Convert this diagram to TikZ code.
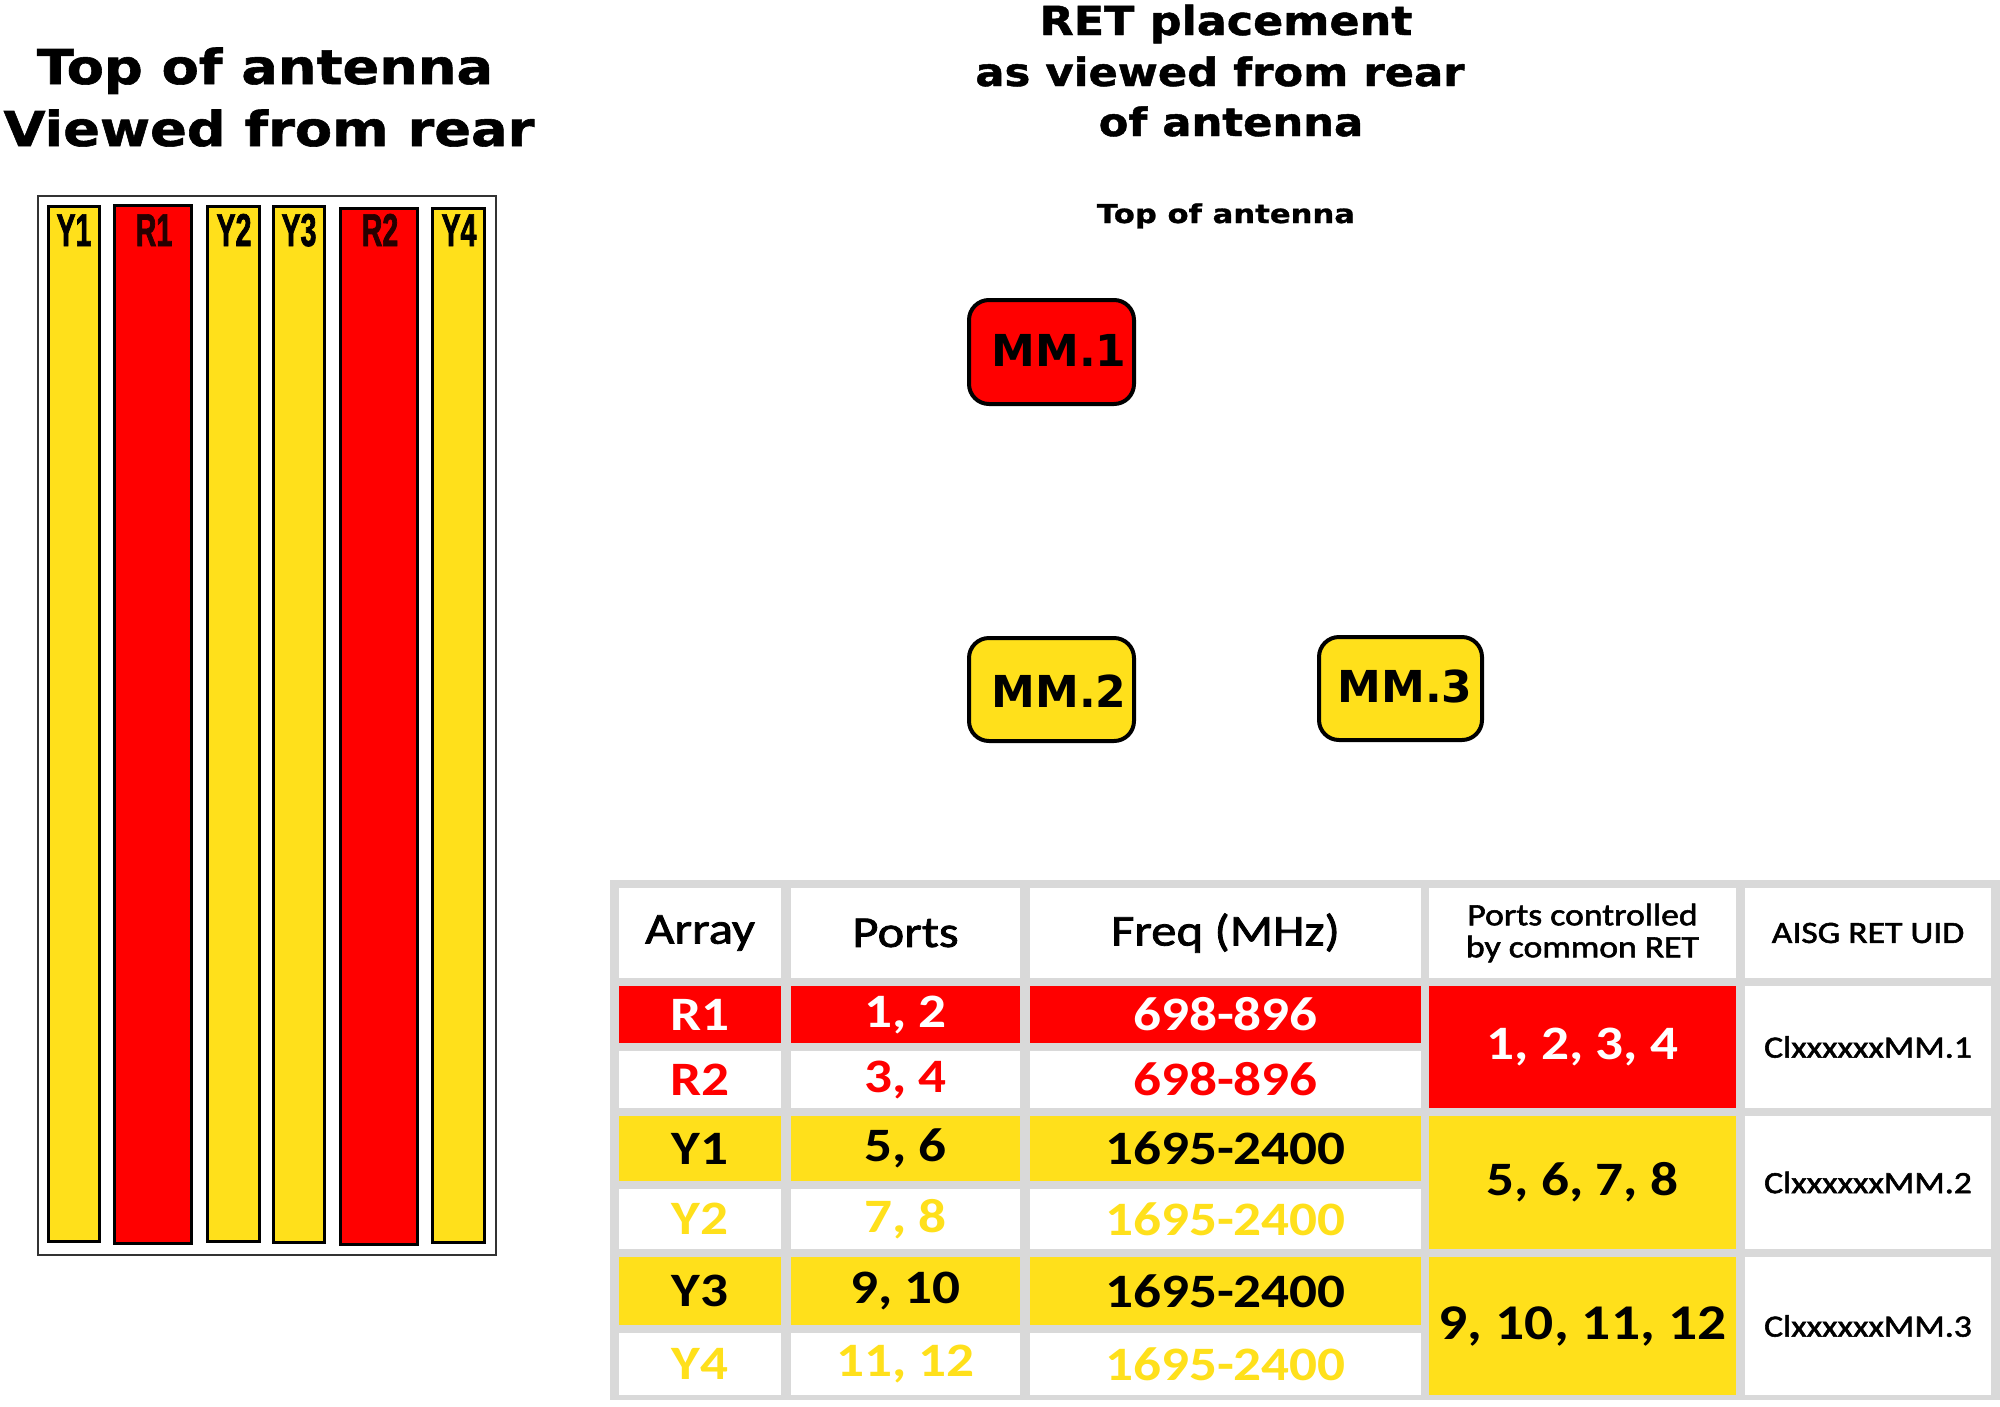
\documentclass[tikz,border=0pt]{standalone}
\usepackage{fontspec}
\setmainfont{DejaVu Sans}
\newfontfamily\ttlA[FakeStretch=1.13,FakeBold=1.2]{DejaVu Sans}
\newfontfamily\ttlB[FakeStretch=1.11,FakeBold=1.2]{DejaVu Sans}
\newfontfamily\ttlC[FakeStretch=1.18,FakeBold=1]{DejaVu Sans}
\newfontfamily\mmfont{DejaVu Sans}
\newfontfamily\elemfont[FakeStretch=0.62,FakeBold=1.5]{Liberation Sans}
\newfontfamily\tabf[FakeStretch=1.15]{Carlito}
\newfontfamily\tabr[FakeStretch=1.15,FakeBold=1.8]{Carlito}
\definecolor{ylw}{HTML}{FFE01B}
\definecolor{rd}{HTML}{FF0000}
\definecolor{tgray}{HTML}{D9D9D9}
\newcommand\hdf{\tabr\fontsize{44pt}{46pt}\selectfont}
\newcommand\bdf{\tabf\bfseries\fontsize{48pt}{50pt}\selectfont}
\newcommand\bdfL{\tabf\bfseries\fontsize{50pt}{52pt}\selectfont}
\newcommand\smf{\tabr\fontsize{31pt}{32pt}\selectfont}
\newcommand\tcell[9]{%
  \fill[#6] (#2,#3) rectangle (#4,#5);
  \node[tcellt, text=#7, font=#8] (#1) at ({(#2+#4)/2},{(#3+#5)/2}) {#9};}
\tikzset{
  ttl/.style={anchor=base, inner sep=0pt},
  elem/.style={draw=black, line width=3pt},
  elemlbl/.style={anchor=base, inner sep=0pt, font=\elemfont\bfseries\fontsize{46pt}{48pt}\selectfont},
  mmbox/.style={draw=black, line width=4pt, rounded corners=20pt},
  mmlbl/.style={anchor=base, inner sep=0pt, font=\mmfont\bfseries\fontsize{44pt}{46pt}\selectfont},
  tcellt/.style={inner sep=0pt, align=center}
}
\begin{document}
\begin{tikzpicture}[x=1pt,y=-1pt]
\useasboundingbox (0,0) rectangle (2000,1406);
\fill[white] (0,0) rectangle (2000,1406);

% ---- left titles
\node[ttl, font=\ttlA\bfseries\fontsize{48pt}{50pt}\selectfont] (ltitle1) at (265,84) {Top of antenna};
\node[ttl, font=\ttlA\bfseries\fontsize{48pt}{50pt}\selectfont] (ltitle2) at (269,146) {Viewed from rear};

% ---- antenna
\draw[draw=black!80, line width=2pt] (38,196) rectangle (496,1255);
\draw[elem, fill=ylw] (48.5,206.5) rectangle (99.5,1241.5);
\draw[elem, fill=rd]  (114.5,205.5) rectangle (191.5,1243.5);
\draw[elem, fill=ylw] (207.5,206.5) rectangle (259.5,1241.5);
\draw[elem, fill=ylw] (273.5,206.5) rectangle (324.5,1242.5);
\draw[elem, fill=rd]  (340.5,208.5) rectangle (417.5,1244.5);
\draw[elem, fill=ylw] (432.5,208.5) rectangle (484.5,1242.5);
\node[elemlbl, text=black] (lY1) at (74,246) {Y1};
\node[elemlbl, text=black!85!red] (lR1) at (154,246) {R1};
\node[elemlbl, text=black] (lY2) at (234,246) {Y2};
\node[elemlbl, text=black] (lY3) at (299,246) {Y3};
\node[elemlbl, text=black!85!red] (lR2) at (380,246) {R2};
\node[elemlbl, text=black] (lY4) at (459,246) {Y4};

% ---- right titles
\node[ttl, font=\ttlB\bfseries\fontsize{40pt}{42pt}\selectfont] (rtitle1) at (1226,35) {RET placement};
\node[ttl, font=\ttlB\bfseries\fontsize{39pt}{42pt}\selectfont] (rtitle2) at (1220,86) {as viewed from rear};
\node[ttl, font=\ttlB\bfseries\fontsize{39pt}{42pt}\selectfont] (rtitle3) at (1231,136) {of antenna};
\node[ttl, font=\ttlC\bfseries\fontsize{26pt}{28pt}\selectfont] (toplbl) at (1226,223) {Top of antenna};

% ---- RET boxes
\draw[mmbox, fill=rd]  (969,300) rectangle (1134,404);
\draw[mmbox, fill=ylw] (969,638) rectangle (1134,741);
\draw[mmbox, fill=ylw] (1319,637) rectangle (1482,740);
\node[mmlbl] (mm1) at (1059,366) {MM.1};
\node[mmlbl] (mm2) at (1059,707) {MM.2};
\node[mmlbl] (mm3) at (1405,702) {MM.3};

% ---- table
\fill[tgray] (610,880) rectangle (2000,1400);
% header
\tcell{hA}{619}{888}{781}{978}{white}{black}{\hdf}{Array}
\tcell{hP}{791}{888}{1020}{978}{white}{black}{\hdf}{Ports}
\tcell{hF}{1030}{888}{1421}{978}{white}{black}{\hdf}{Freq (MHz)}
\tcell{hC}{1429}{888}{1736}{978}{white}{black}{\smf}{Ports controlled\\by common RET}
\tcell{hU}{1745}{888}{1991}{978}{white}{black}{\smf}{AISG RET UID}
% R1
\tcell{aR1}{619}{986}{781}{1043}{rd}{white}{\bdf}{R1}
\tcell{pR1}{791}{986}{1020}{1043}{rd}{white}{\bdf}{1, 2}
\tcell{fR1}{1030}{986}{1421}{1043}{rd}{white}{\bdf}{698-896}
% R2
\tcell{aR2}{619}{1051}{781}{1108}{white}{rd}{\bdf}{R2}
\tcell{pR2}{791}{1051}{1020}{1108}{white}{rd}{\bdf}{3, 4}
\tcell{fR2}{1030}{1051}{1421}{1108}{white}{rd}{\bdf}{698-896}
% Y1
\tcell{aY1}{619}{1116}{781}{1181}{ylw}{black}{\bdf}{Y1}
\tcell{pY1}{791}{1116}{1020}{1181}{ylw}{black}{\bdf}{5, 6}
\tcell{fY1}{1030}{1116}{1421}{1181}{ylw}{black}{\bdf}{1695-2400}
% Y2
\tcell{aY2}{619}{1189}{781}{1249}{white}{ylw}{\bdf}{Y2}
\tcell{pY2}{791}{1189}{1020}{1249}{white}{ylw}{\bdf}{7, 8}
\tcell{fY2}{1030}{1189}{1421}{1249}{white}{ylw}{\bdf}{1695-2400}
% Y3
\tcell{aY3}{619}{1257}{781}{1325}{ylw}{black}{\bdf}{Y3}
\tcell{pY3}{791}{1257}{1020}{1325}{ylw}{black}{\bdf}{9, 10}
\tcell{fY3}{1030}{1257}{1421}{1325}{ylw}{black}{\bdf}{1695-2400}
% Y4
\tcell{aY4}{619}{1333}{781}{1395}{white}{ylw}{\bdf}{Y4}
\tcell{pY4}{791}{1333}{1020}{1395}{white}{ylw}{\bdf}{11, 12}
\tcell{fY4}{1030}{1333}{1421}{1395}{white}{ylw}{\bdf}{1695-2400}
% merged
\tcell{cR}{1429}{986}{1736}{1108}{rd}{white}{\bdf}{1, 2, 3, 4}
\tcell{cY1}{1429}{1116}{1736}{1249}{ylw}{black}{\bdf}{5, 6, 7, 8}
\tcell{cY2}{1429}{1257}{1736}{1395}{ylw}{black}{\bdfL}{9, 10, 11, 12}
\tcell{u1}{1745}{986}{1991}{1108}{white}{black}{\smf}{ClxxxxxxMM.1}
\tcell{u2}{1745}{1116}{1991}{1249}{white}{black}{\smf}{ClxxxxxxMM.2}
\tcell{u3}{1745}{1257}{1991}{1395}{white}{black}{\smf}{ClxxxxxxMM.3}
\end{tikzpicture}
\end{document}
